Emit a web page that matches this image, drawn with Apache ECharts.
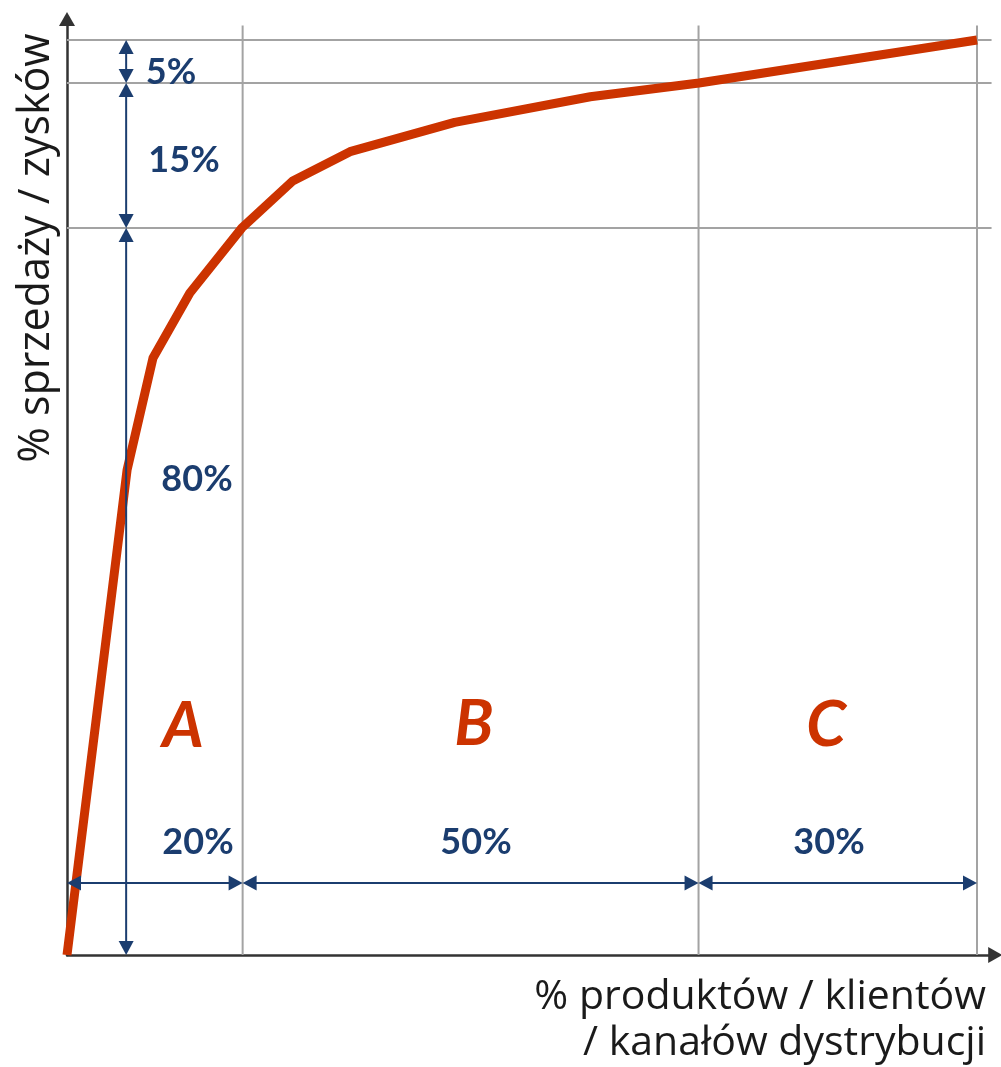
<!DOCTYPE html>
<html>
<head>
<meta charset="utf-8">
<script src="https://cdn.jsdelivr.net/npm/echarts@6/dist/echarts.min.js"></script>
<style>
html,body{margin:0;padding:0;background:#fff;}
#chart{width:1001px;height:1067px;}
</style>
</head>
<body>
<div id="chart"></div>
<script>
// ---- data ----
const curveX = [0, 6.6, 9.45, 13.5, 19.2, 24.8, 31.1, 42.6, 57.5, 69.45, 100];
const curveY = [0, 53.0, 65.25, 72.35, 79.45, 84.6, 87.8, 91.0, 93.8, 95.3, 100];
const xBounds = [0, 19.3, 69.4, 100];   // product share boundaries (A | B | C)
const yBounds = [0, 79.45, 95.3, 100];  // sales share boundaries
const xShares = ['20%', '50%', '30%'];
const yShares = ['80%', '15%', '5%'];
const classes = ['A', 'B', 'C'];
const yTitle = '% sprzedaży / zysków';
const xTitle = ['% produktów / klientów', '/ kanałów dystrybucji'];

// ---- styles / layout ----
const NAVY = '#1b3d6f';
const RED = '#cc3300';
const GRID_GRAY = '#a3a3a3';
const GRID_END = 101.6;
const V_ARROW_X = 6.5;
const H_ARROW_Y = 7.87;

const curveData = curveX.map((x, i) => [x, curveY[i]]);

const gridLineData = [];
xBounds.slice(1).forEach(x => gridLineData.push([x, 0, x, GRID_END]));
yBounds.slice(1).forEach(y => gridLineData.push([0, y, GRID_END, y]));

const arrowData = [];
for (let i = 0; i < 3; i++) {
  arrowData.push([V_ARROW_X, yBounds[i], V_ARROW_X, yBounds[i + 1]]);
  arrowData.push([xBounds[i], H_ARROW_Y, xBounds[i + 1], H_ARROW_Y]);
}

function renderSegment(params, api) {
  const p1 = api.coord([api.value(0), api.value(1)]);
  const p2 = api.coord([api.value(2), api.value(3)]);
  return {
    type: 'line',
    shape: {x1: p1[0], y1: p1[1], x2: p2[0], y2: p2[1]},
    style: {stroke: GRID_GRAY, lineWidth: 2}
  };
}

function renderArrow(params, api) {
  const p1 = api.coord([api.value(0), api.value(1)]);
  const p2 = api.coord([api.value(2), api.value(3)]);
  const dx = p2[0] - p1[0], dy = p2[1] - p1[1];
  const len = Math.sqrt(dx * dx + dy * dy);
  const ux = dx / len, uy = dy / len;
  const nx = -uy, ny = ux;
  const L = 14, W = 7.5;
  const head = (tip, dir) => {
    const bx = tip[0] - dir[0] * L, by = tip[1] - dir[1] * L;
    return {
      type: 'polygon',
      shape: {points: [[tip[0], tip[1]], [bx + nx * W, by + ny * W], [bx - nx * W, by - ny * W]]},
      style: {fill: NAVY}
    };
  };
  return {
    type: 'group',
    children: [
      {
        type: 'line',
        shape: {x1: p1[0] + ux * 4, y1: p1[1] + uy * 4, x2: p2[0] - ux * 4, y2: p2[1] - uy * 4},
        style: {stroke: NAVY, lineWidth: 2}
      },
      head(p1, [-ux, -uy]),
      head(p2, [ux, uy])
    ]
  };
}

const numFont = 'bold 36px Lato, "DejaVu Sans", sans-serif';
const letterFont = 'italic bold 64px Lato, "DejaVu Sans", sans-serif';
const xTitleFont = '41px "Open Sans", "DejaVu Sans", sans-serif';
const yTitleFont = '43px "Open Sans", "DejaVu Sans", sans-serif';

function txt(text, x, y, font, color, extra) {
  return Object.assign({
    type: 'text', x: x, y: y, z: 100,
    style: {text: text, font: font, fill: color, align: 'center', verticalAlign: 'middle'}
  }, extra || {});
}

const graphics = [
  txt(yShares[2], 171, 72, numFont, NAVY),
  txt(yShares[1], 184, 160, numFont, NAVY),
  txt(yShares[0], 197, 479, numFont, NAVY),
  txt(xShares[0], 198, 842, numFont, NAVY),
  txt(xShares[1], 476, 842, numFont, NAVY),
  txt(xShares[2], 829, 842, numFont, NAVY),
  txt(classes[0], 183, 726, letterFont, RED),
  txt(classes[1], 474, 724, letterFont, RED),
  txt(classes[2], 826, 725, letterFont, RED),
  txt(yTitle, 37, 248, yTitleFont, '#1a1a1a', {rotation: Math.PI / 2}),
  {type: 'text', x: 986, y: 997, z: 100,
   style: {text: xTitle[0], font: xTitleFont, fill: '#1a1a1a', align: 'right', verticalAlign: 'middle'}},
  {type: 'text', x: 986, y: 1043, z: 100,
   style: {text: xTitle[1], font: xTitleFont, fill: '#1a1a1a', align: 'right', verticalAlign: 'middle'}}
];

const axisLine = {
  show: true,
  symbol: ['none', 'triangle'],
  symbolSize: [16, 14],
  lineStyle: {color: '#333', width: 2.5}
};

const chart = echarts.init(document.getElementById('chart'), null, {renderer: 'canvas'});
chart.setOption({
  backgroundColor: '#fff',
  animation: false,
  grid: {left: 67, right: 5.8, top: 19, bottom: 112, containLabel: false},
  xAxis: {
    type: 'value', min: 0, max: 102,
    axisLine: axisLine, axisTick: {show: false}, axisLabel: {show: false}, splitLine: {show: false}
  },
  yAxis: {
    type: 'value', min: 0, max: 102.3,
    axisLine: axisLine, axisTick: {show: false}, axisLabel: {show: false}, splitLine: {show: false}
  },
  graphic: graphics,
  series: [
    {type: 'custom', renderItem: renderSegment, data: gridLineData, z: 1, silent: true, clip: false},
    {type: 'line', data: curveData, showSymbol: false, z: 3, silent: true,
     lineStyle: {color: RED, width: 9, join: 'round', cap: 'butt'}},
    {type: 'custom', renderItem: renderArrow, data: arrowData, z: 4, silent: true, clip: false}
  ]
});
</script>
</body>
</html>
